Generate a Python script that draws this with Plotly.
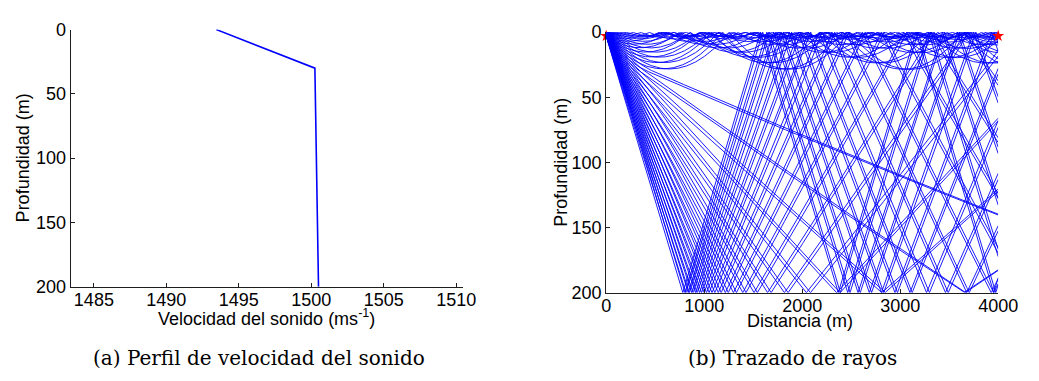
import math
import plotly.graph_objects as go

# ---------------- data ----------------
profile_depth = [0, 30, 200]                 # m
profile_speed = [1493.45, 1500.25, 1500.5]   # m/s
launch_angles = [-15.0, -14.5, -14.0, -13.5, -13.0, -12.5, -12.0, -11.5, -11.0, -10.5,
                 -10.0, -9.5, -9.0, -8.5, -8.0, -7.5, -7.0, -6.5, -6.0, -5.5,
                 -5.0, -4.5, -4.0, -3.5, -3.0, -2.5, -2.0, -1.5, -1.0, -0.5,
                 0.0, 0.5, 1.0, 1.5, 2.0, 2.5, 3.0, 3.5, 4.0, 4.5,
                 5.0, 5.5, 6.0, 6.5, 7.0, 7.5, 8.0, 8.5, 9.0, 9.5,
                 10.0, 10.5, 11.0, 11.5, 12.0, 12.5, 13.0, 13.5, 14.0, 14.5, 15.0]  # deg
source_range, source_depth = 0, 3
receiver_range, receiver_depth = 4000, 3
max_range = 4000
bottom_depth = 200
speed_ticks = [1485, 1490, 1495, 1500, 1505, 1510]
depth_ticks = [0, 50, 100, 150, 200]
range_ticks = [0, 1000, 2000, 3000, 4000]


def speed_at(z):
    n = len(profile_depth)
    for i in range(n - 1):
        z0, z1 = profile_depth[i], profile_depth[i + 1]
        if z <= z1 or i == n - 2:
            g = (profile_speed[i + 1] - profile_speed[i]) / (z1 - z0)
            return profile_speed[i] + g * (z - z0), g


def trace_ray(theta_deg, ds=1.0, every=4):
    th = math.radians(theta_deg)
    c, _ = speed_at(source_depth)
    xi = math.cos(th) / c
    zeta = math.sin(th) / c
    r, z = float(source_range), float(source_depth)
    rs, zs = [r], [z]
    k = 0
    while True:
        c, g = speed_at(z)
        rn = r + ds * c * xi
        zn = z + ds * c * zeta
        zeta -= ds * g / (c * c)
        if rn >= max_range:
            f = (max_range - r) / (rn - r)
            rs.append(max_range)
            zs.append(z + f * (zn - z))
            break
        if zn < 0:
            f = z / (z - zn)
            rs.append(r + f * (rn - r)); zs.append(0.0)
            zn = -zn
            zeta = abs(zeta)
        elif zn > bottom_depth:
            f = (bottom_depth - z) / (zn - z)
            rs.append(r + f * (rn - r)); zs.append(float(bottom_depth))
            zn = 2 * bottom_depth - zn
            zeta = -abs(zeta)
        r, z = rn, zn
        k += 1
        if k % every == 0:
            rs.append(r); zs.append(z)
    return rs, zs


ray_x, ray_y = [], []
for a in launch_angles:
    rx, ry = trace_ray(a)
    ray_x += rx + [None]
    ray_y += ry + [None]

BLUE = "rgb(0,0,255)"
AX = "rgb(30,30,30)"
SANS = "Liberation Sans, Arial, sans-serif"
TICKFONT = dict(family=SANS, size=18, color="black")

fig = go.Figure()

# left: sound speed profile
fig.add_trace(go.Scatter(x=profile_speed, y=profile_depth, mode="lines",
                         line=dict(color=BLUE, width=1.6), xaxis="x", yaxis="y",
                         showlegend=False, hoverinfo="skip"))

# right: source marker (behind rays)
fig.add_trace(go.Scatter(x=[source_range], y=[source_depth], mode="markers",
                         marker=dict(symbol="star", size=9, color="red"),
                         cliponaxis=False, xaxis="x2", yaxis="y2", showlegend=False))
# rays
fig.add_trace(go.Scatter(x=ray_x, y=ray_y, mode="lines",
                         line=dict(color=BLUE, width=0.9), xaxis="x2", yaxis="y2",
                         showlegend=False, hoverinfo="skip", connectgaps=False))
# receiver marker
fig.add_trace(go.Scatter(x=[receiver_range], y=[receiver_depth], mode="markers",
                         marker=dict(symbol="star", size=9, color="red"),
                         cliponaxis=False, xaxis="x2", yaxis="y2", showlegend=False))

W, H = 1039, 381


def px(x):
    return x / W


def py(y):
    return 1 - y / H


axis_common = dict(showgrid=False, zeroline=False, showline=True, linecolor=AX,
                   linewidth=1, ticks="inside", ticklen=4, tickcolor=AX,
                   tickfont=TICKFONT, mirror=False)

fig.update_layout(
    width=W, height=H, margin=dict(l=0, r=0, t=0, b=0),
    paper_bgcolor="white", plot_bgcolor="white",
    xaxis=dict(domain=[px(67.3), px(469.3)], range=[1483.4, 1510.47],
               tickvals=speed_ticks, anchor="y", ticklabelstandoff=-3, **axis_common),
    yaxis=dict(domain=[py(292), py(20.7)], range=[200, 0],
               tickvals=depth_ticks, anchor="x", **axis_common),
    xaxis2=dict(domain=[px(616), px(1017.7)], range=[0, 4000],
                tickvals=range_ticks, anchor="y2", ticklabelstandoff=-3, **axis_common),
    yaxis2=dict(domain=[py(298.3), py(23.3)], range=[200, 0],
                tickvals=depth_ticks, anchor="x2", **axis_common),
)

LABELFONT = dict(family=SANS, size=18, color="black")
CAPFONT = dict(family="DejaVu Serif, serif", size=20, color="black")

annots = [
    dict(text="Velocidad del sonido (ms<sup>-1</sup>)", x=px(268), y=py(325), font=LABELFONT),
    dict(text="Profundidad (m)", x=px(18), y=py(156), font=LABELFONT, textangle=-90),
    dict(text="Distancia (m)", x=px(815), y=py(328), font=LABELFONT),
    dict(text="Profundidad (m)", x=px(569), y=py(161), font=LABELFONT, textangle=-90),
    dict(text="(a) Perfil de velocidad del sonido", x=px(260), y=py(367), font=CAPFONT),
    dict(text="(b) Trazado de rayos", x=px(807), y=py(367), font=CAPFONT),
]
for a in annots:
    fig.add_annotation(xref="paper", yref="paper", xanchor="center", yanchor="middle",
                       showarrow=False, **a)

fig.write_html("out.html")
